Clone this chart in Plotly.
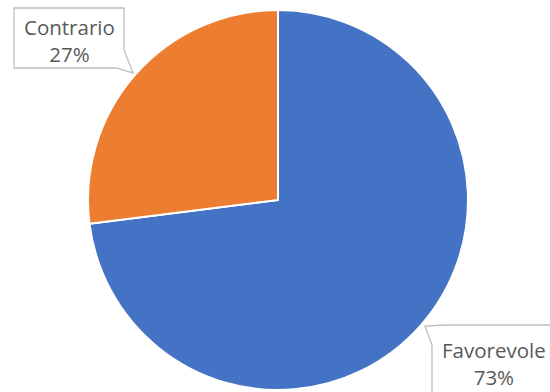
import plotly.graph_objects as go

labels = ["Favorevole", "Contrario"]
values = [73, 27]
colors = ["#4472C4", "#ED7D31"]

W, H = 550, 392

def px(x):
    return x / W

def py(y):
    return 1 - y / H

fig = go.Figure(go.Pie(
    labels=labels, values=values, sort=False, direction="clockwise", rotation=0,
    marker=dict(colors=colors, line=dict(color="white", width=2)),
    textinfo="none", hoverinfo="label+percent", showlegend=False,
    domain=dict(x=[px(88), px(468)], y=[py(390), py(10)]),
))

def path(points):
    s = "M" + " L".join(f"{px(x):.5f},{py(y):.5f}" for x, y in points) + " Z"
    return s

line_style = dict(color="#BFBFBF", width=1.3)
shapes = [
    dict(type="path", xref="paper", yref="paper",
         path=path([(14, 8), (124, 8), (124, 50), (133, 73), (116, 68), (14, 68)]),
         line=line_style, fillcolor="white", layer="above"),
    dict(type="path", xref="paper", yref="paper",
         path=path([(432, 345), (425, 326), (445, 325), (560, 325), (560, 400), (432, 400)]),
         line=line_style, fillcolor="white", layer="above"),
]

total = sum(values)
font = dict(family="Open Sans, Noto Sans, sans-serif", size=20.5, color="#595959")
annotations = [
    dict(x=px(69), y=py(40), xref="paper", yref="paper", showarrow=False,
         xanchor="center", yanchor="middle",
         text=f"{labels[1]}<br>{round(values[1] / total * 100)}%", font=font, align="center"),
    dict(x=px(494), y=py(363), xref="paper", yref="paper", showarrow=False,
         xanchor="center", yanchor="middle",
         text=f"{labels[0]}<br>{round(values[0] / total * 100)}%", font=font, align="center"),
]

fig.update_layout(
    width=W, height=H, margin=dict(l=0, r=0, t=0, b=0),
    paper_bgcolor="white", plot_bgcolor="white",
    shapes=shapes, annotations=annotations,
)

fig.write_html("out.html")
